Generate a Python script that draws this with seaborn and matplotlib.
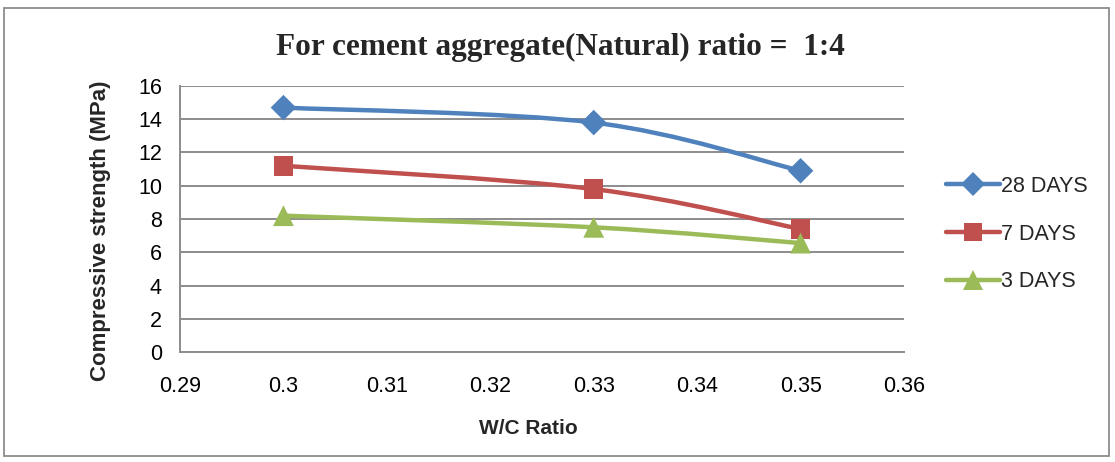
import matplotlib
matplotlib.use("Agg")
import matplotlib.pyplot as plt
from matplotlib.path import Path
from matplotlib.patches import PathPatch, Rectangle
from matplotlib.lines import Line2D
import numpy as np
import pandas as pd
import seaborn as sns

# Data
wc_ratio = [0.30, 0.33, 0.35]
days_28 = [14.7, 13.8, 10.9]
days_7 = [11.2, 9.8, 7.4]
days_3 = [8.2, 7.5, 6.55]
series_names = ["28 DAYS", "7 DAYS", "3 DAYS"]
x_ticks = [0.29, 0.30, 0.31, 0.32, 0.33, 0.34, 0.35, 0.36]
x_tick_labels = ["0.29", "0.3", "0.31", "0.32", "0.33", "0.34", "0.35", "0.36"]
y_ticks = [0, 2, 4, 6, 8, 10, 12, 14, 16]

colors = {"28 DAYS": "#4F81BD", "7 DAYS": "#C0504D", "3 DAYS": "#9BBB59"}
markers = {"28 DAYS": "D", "7 DAYS": "s", "3 DAYS": "^"}
msizes = {"28 DAYS": 13, "7 DAYS": 14, "3 DAYS": 15}

df = pd.DataFrame({
    "wc": wc_ratio * 3,
    "strength": days_28 + days_7 + days_3,
    "series": [s for s in series_names for _ in wc_ratio],
})

sns.set_theme(style="white")
plt.rcParams["font.family"] = ["Liberation Sans", "DejaVu Sans"]

W, H = 1115, 462
fig = plt.figure(figsize=(W / 100, H / 100), dpi=100)
ax = fig.add_axes([180 / W, 1 - 352 / H, (904 - 180) / W, (352 - 86) / H])


def smooth_path(xs, ys):
    """Cubic Bezier path through the points (spreadsheet-style smoothing)."""
    pts = np.column_stack([xs, ys]).astype(float)
    verts = [pts[0]]
    codes = [Path.MOVETO]
    n = len(pts)
    for i in range(n - 1):
        p0 = pts[i - 1] if i > 0 else pts[i]
        p1 = pts[i]
        p2 = pts[i + 1]
        p3 = pts[i + 2] if i + 2 < n else pts[i + 1]
        c1 = p1 + (p2 - p0) / 6.0
        c2 = p2 - (p3 - p1) / 6.0
        verts += [c1, c2, p2]
        codes += [Path.CURVE4] * 3
    return Path(verts, codes)


for name in series_names:
    sub = df[df["series"] == name]
    patch = PathPatch(smooth_path(sub["wc"], sub["strength"]), facecolor="none",
                      edgecolor=colors[name], lw=3.2, capstyle="round", zorder=3)
    ax.add_patch(patch)

for name in series_names:
    sub = df[df["series"] == name]
    sns.scatterplot(data=sub, x="wc", y="strength", color=colors[name],
                    marker=markers[name], s=msizes[name] ** 2, edgecolor="none",
                    linewidth=0, ax=ax, zorder=4, legend=False)

ax.set_xlim(0.29, 0.36)
ax.set_ylim(0, 16)
ax.set_xticks(x_ticks)
ax.set_xticklabels(x_tick_labels)
ax.set_yticks(y_ticks)

grid_c = "#8c8c8c"
ax.yaxis.grid(True, color=grid_c, lw=1.4)
ax.xaxis.grid(False)
ax.set_axisbelow(True)
for side in ["top", "right"]:
    ax.spines[side].set_visible(False)
for side in ["left", "bottom"]:
    ax.spines[side].set_color(grid_c)
    ax.spines[side].set_linewidth(1.4)
ax.tick_params(axis="both", which="major", direction="out", length=7,
               width=1.4, color=grid_c, labelsize=15.5, labelcolor="black")
ax.tick_params(axis="x", pad=10)
ax.tick_params(axis="y", pad=6)
ax.set_xlabel("")
ax.set_ylabel("")

# Axis titles
fig.text(528 / W, 1 - 428 / H, "W/C Ratio", ha="center", va="center",
         fontsize=15, fontweight="bold")
fig.text(101 / W, 1 - 231 / H, "Compressive strength (MPa)", ha="center",
         va="center", rotation=90, fontsize=16, fontweight="bold")

fig.text(560 / W, 1 - 47 / H, "For cement aggregate(Natural) ratio =  1:4",
         ha="center", va="center", fontsize=22.5, fontweight="bold",
         family=["Liberation Serif", "DejaVu Serif"])

handles = [Line2D([0], [0], color=colors[n], lw=3.2, marker=markers[n],
                  markersize=msizes[n] - 1, markeredgewidth=0, solid_capstyle="round")
           for n in series_names]
fig.legend(handles, series_names, loc="center left",
           bbox_to_anchor=(927 / W, 1 - 234 / H), frameon=False,
           fontsize=15.5, handlelength=2.5, handletextpad=0.05, labelspacing=1.25)

fig.patches.append(Rectangle((4 / W, 6 / H), 1 - 10 / W, 1 - 14 / H,
                             transform=fig.transFigure, fill=False,
                             edgecolor="#8c8c8c", lw=1.3))

fig.savefig("out.png", dpi=100)
